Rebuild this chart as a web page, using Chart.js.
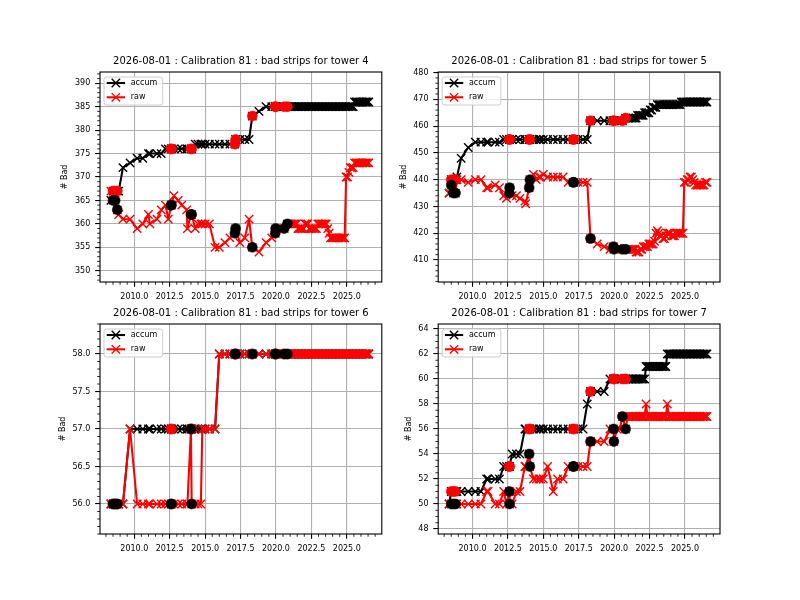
<!DOCTYPE html>
<html>
<head>
<meta charset="utf-8">
<title>Bad strips per tower</title>
<script src="https://cdn.jsdelivr.net/npm/chart.js@4.4.1/dist/chart.umd.min.js"></script>
<style>
  html, body { margin: 0; padding: 0; background: #fff; }
  #wrap { position: relative; width: 800px; height: 600px; }
  #wrap canvas { position: absolute; left: 0; top: 0; }
</style>
</head>
<body>
<div id="wrap">
  <canvas id="tower4" width="800" height="600"></canvas>
  <canvas id="tower5" width="800" height="600"></canvas>
  <canvas id="tower6" width="800" height="600"></canvas>
  <canvas id="tower7" width="800" height="600"></canvas>
</div>
<script>
'use strict';

// calibration runs (decimal year), shared by all towers
const runYears = [
  2008.35, 2008.50, 2008.65, 2008.80, 2008.90, 2009.20, 2009.70, 2010.20, 2010.60, 2011.00,
  2011.10, 2011.60, 2011.90, 2012.20, 2012.40, 2012.60, 2012.62, 2012.80, 2013.10, 2013.35,
  2013.70, 2013.75, 2014.00, 2014.05, 2014.30, 2014.50, 2014.70, 2014.80, 2015.00, 2015.30,
  2015.70, 2016.00, 2016.40, 2016.75, 2017.10, 2017.15, 2017.45, 2017.80, 2018.10, 2018.33,
  2018.80, 2019.30, 2019.70, 2019.95, 2019.98, 2020.20, 2020.40, 2020.58, 2020.81,
  2020.95, 2021.05, 2021.15, 2021.25, 2021.35, 2021.45, 2021.55, 2021.65, 2021.75, 2021.85,
  2021.95, 2022.05, 2022.15, 2022.25, 2022.35, 2022.45, 2022.55, 2022.65, 2022.75, 2022.85,
  2022.95, 2023.05, 2023.15, 2023.25, 2023.35, 2023.45, 2023.55, 2023.65, 2023.75, 2023.85,
  2023.95, 2024.05, 2024.15, 2024.25, 2024.35, 2024.45, 2024.55, 2024.65, 2024.75, 2024.85,
  2024.95, 2025.05, 2025.15, 2025.25, 2025.35, 2025.45, 2025.55, 2025.65, 2025.75, 2025.85,
  2025.95, 2026.05, 2026.15, 2026.25, 2026.35, 2026.45, 2026.55,
];
// runs marked with a big dot
const highlightRuns = [1, 2, 3, 15, 16, 22, 23, 34, 35, 39, 43, 44, 47, 48];

const calibDate = '2026-08-01';
const calibNumber = 81;
const seriesNames = ['accum', 'raw'];
const seriesColors = ['#000000', '#ff0000'];

const yearTicks = [2010, 2012.5, 2015, 2017.5, 2020, 2022.5, 2025];

const accum4 = [
  365, 367, 367, 367, 367, 372, 373, 374, 374, 375,
  375, 375, 375, 376, 376, 376, 376, 376, 376, 376,
  376, 376, 376, 376, 377, 377, 377, 377, 377, 377,
  377, 377, 377, 377, 377, 378, 378, 378, 378, 383,
  384, 385, 385, 385, 385, 385, 385, 385, 385,
  385, 385, 385, 385, 385, 385, 385, 385, 385, 385,
  385, 385, 385, 385, 385, 385, 385, 385, 385, 385,
  385, 385, 385, 385, 385, 385, 385, 385, 385, 385,
  385, 385, 385, 385, 385, 385, 385, 385, 385, 385,
  385, 385, 385, 385, 385, 385, 386, 386, 386, 386,
  386, 386, 386, 386, 386, 386, 386,
];
const raw4 = [
  367, 365, 365, 363, 362, 361, 361, 359, 360, 362,
  360, 361, 363, 364, 361, 364, 364, 366, 365, 364,
  363, 359, 362, 362, 359, 360, 360, 360, 360, 360,
  355, 355, 356, 357, 358, 359, 356, 357, 361, 355,
  354, 356, 357, 358, 359, 359, 359, 359, 360,
  360, 360, 360, 360, 360, 360, 359, 359, 359, 359,
  359, 360, 360, 360, 359, 359, 359, 359, 359, 359,
  360, 360, 360, 360, 360, 360, 360, 359, 358, 357,
  357, 357, 357, 357, 357, 357, 357, 357, 357, 357,
  370, 370, 371, 372, 372, 372, 373, 373, 373, 373,
  373, 373, 373, 373, 373, 373, 373,
];
const ticks4 = [350, 355, 360, 365, 370, 375, 380, 385, 390];

const accum5 = [
  435, 440, 440, 440, 441, 448, 452, 454, 454, 454,
  454, 454, 454, 455, 455, 455, 455, 455, 455, 455,
  455, 455, 455, 455, 455, 455, 455, 455, 455, 455,
  455, 455, 455, 455, 455, 455, 455, 455, 455, 462,
  462, 462, 462, 462, 462, 462, 462, 462, 463,
  463, 463, 463, 463, 463, 463, 463, 464, 464, 464,
  464, 464, 465, 465, 465, 465, 466, 466, 467, 467,
  467, 468, 468, 468, 468, 468, 468, 468, 468, 468,
  468, 468, 468, 468, 468, 468, 468, 468, 469, 469,
  469, 469, 469, 469, 469, 469, 469, 469, 469, 469,
  469, 469, 469, 469, 469, 469, 469,
];
const raw5 = [
  435, 438, 435, 435, 440, 440, 439, 440, 440, 437,
  437, 438, 437, 434, 433, 435, 437, 434, 434, 433,
  432, 431, 437, 440, 442, 440, 441, 441, 442, 441,
  441, 441, 441, 439, 439, 439, 439, 439, 439, 418,
  416, 415, 414, 415, 414, 414, 414, 414, 414,
  414, 414, 414, 414, 414, 414, 413, 413, 413, 414,
  414, 415, 415, 415, 415, 416, 416, 416, 416, 417,
  420, 421, 420, 419, 419, 418, 418, 419, 420, 420,
  420, 419, 419, 419, 420, 420, 420, 420, 420, 420,
  439, 439, 440, 440, 441, 441, 440, 439, 438, 438,
  438, 438, 438, 438, 438, 439, 439,
];
const ticks5 = [410, 420, 430, 440, 450, 460, 470, 480];

const accum6 = [
  56, 56, 56, 56, 56, 56, 57, 57, 57, 57,
  57, 57, 57, 57, 57, 57, 57, 57, 57, 57,
  57, 57, 57, 57, 57, 57, 57, 57, 57, 57,
  57, 58, 58, 58, 58, 58, 58, 58, 58, 58,
  58, 58, 58, 58, 58, 58, 58, 58, 58,
  58, 58, 58, 58, 58, 58, 58, 58, 58, 58,
  58, 58, 58, 58, 58, 58, 58, 58, 58, 58,
  58, 58, 58, 58, 58, 58, 58, 58, 58, 58,
  58, 58, 58, 58, 58, 58, 58, 58, 58, 58,
  58, 58, 58, 58, 58, 58, 58, 58, 58, 58,
  58, 58, 58, 58, 58, 58, 58,
];
const raw6 = [
  56, 56, 56, 56, 56, 56, 57, 56, 56, 56,
  56, 56, 56, 56, 56, 56, 56, 56, 56, 56,
  56, 56, 57, 56, 56, 56, 56, 57, 57, 57,
  57, 58, 58, 58, 58, 58, 58, 58, 58, 58,
  58, 58, 58, 58, 58, 58, 58, 58, 58,
  58, 58, 58, 58, 58, 58, 58, 58, 58, 58,
  58, 58, 58, 58, 58, 58, 58, 58, 58, 58,
  58, 58, 58, 58, 58, 58, 58, 58, 58, 58,
  58, 58, 58, 58, 58, 58, 58, 58, 58, 58,
  58, 58, 58, 58, 58, 58, 58, 58, 58, 58,
  58, 58, 58, 58, 58, 58, 58,
];
const ticks6 = [56.0, 56.5, 57.0, 57.5, 58.0];

const accum7 = [
  50, 51, 51, 51, 51, 51, 51, 51, 51, 52,
  52, 52, 52, 53, 53, 53, 53, 54, 54, 54,
  56, 56, 56, 56, 56, 56, 56, 56, 56, 56,
  56, 56, 56, 56, 56, 56, 56, 56, 58, 59,
  59, 59, 60, 60, 60, 60, 60, 60, 60,
  60, 60, 60, 60, 60, 60, 60, 60, 60, 60,
  60, 60, 60, 61, 61, 61, 61, 61, 61, 61,
  61, 61, 61, 61, 61, 61, 61, 61, 62, 62,
  62, 62, 62, 62, 62, 62, 62, 62, 62, 62,
  62, 62, 62, 62, 62, 62, 62, 62, 62, 62,
  62, 62, 62, 62, 62, 62, 62,
];
const raw7 = [
  50, 50, 50, 50, 50, 50, 50, 50, 50, 51,
  51, 50, 50, 51, 50, 51, 50, 50, 51, 51,
  53, 53, 54, 53, 52, 52, 52, 52, 52, 53,
  51, 52, 52, 53, 53, 53, 53, 53, 53, 55,
  55, 55, 56, 56, 55, 56, 56, 57, 56,
  57, 57, 57, 57, 57, 57, 57, 57, 57, 57,
  57, 57, 57, 58, 57, 57, 57, 57, 57, 57,
  57, 57, 57, 57, 57, 57, 57, 57, 58, 57,
  57, 57, 57, 57, 57, 57, 57, 57, 57, 57,
  57, 57, 57, 57, 57, 57, 57, 57, 57, 57,
  57, 57, 57, 57, 57, 57, 57,
];
const ticks7 = [48, 50, 52, 54, 56, 58, 60, 62, 64];

// subplot layout (axes box in page pixels) and axis limits
const panels = [
  { canvas: 'tower4', tower: 4, accum: accum4, raw: raw4, yTicks: ticks4, yMin: 347.6, yMax: 392.4, yMinor: 1, digits: 0, box: [100, 72, 381.8, 282] },
  { canvas: 'tower5', tower: 5, accum: accum5, raw: raw5, yTicks: ticks5, yMin: 401.8, yMax: 480.2, yMinor: 2, digits: 0, box: [438.2, 72, 720, 282] },
  { canvas: 'tower6', tower: 6, accum: accum6, raw: raw6, yTicks: ticks6, yMin: 55.6, yMax: 58.4, yMinor: 0.1, digits: 1, box: [100, 324, 381.8, 534] },
  { canvas: 'tower7', tower: 7, accum: accum7, raw: raw7, yTicks: ticks7, yMin: 47.6, yMax: 64.4, yMinor: 0.5, digits: 0, box: [438.2, 324, 720, 534] },
];

const FONT = "'DejaVu Sans', sans-serif";
const TICK_LEN = 4.86;
const TICK_PAD = 4.86;
const MINOR_LEN = 2.8;
const Y_AXIS_W = 40;
const X_AXIS_H = 20;

const isMajor = (v, majors) => majors.some((m) => Math.abs(m - v) < 1e-6);

function drawCross(ctx, x, y, half) {
  ctx.beginPath();
  ctx.moveTo(x - half, y - half);
  ctx.lineTo(x + half, y + half);
  ctx.moveTo(x - half, y + half);
  ctx.lineTo(x + half, y - half);
  ctx.stroke();
}

function drawLegend(ctx, a) {
  const x0 = a.left + 4;
  const y0 = a.top + 5;
  ctx.beginPath();
  if (ctx.roundRect) ctx.roundRect(x0, y0, 58.7, 28, 2.5);
  else ctx.rect(x0, y0, 58.7, 28);
  ctx.fillStyle = 'rgba(255,255,255,0.8)';
  ctx.fill();
  ctx.strokeStyle = '#cccccc';
  ctx.lineWidth = 1;
  ctx.stroke();

  ctx.font = `8px ${FONT}`;
  ctx.textAlign = 'left';
  ctx.textBaseline = 'middle';
  seriesNames.forEach((name, i) => {
    const cy = a.top + 11 + i * 14.3;
    ctx.strokeStyle = seriesColors[i];
    ctx.lineWidth = 2.08;
    ctx.beginPath();
    ctx.moveTo(a.left + 6.7, cy);
    ctx.lineTo(a.left + 25, cy);
    ctx.stroke();
    ctx.lineWidth = 1.4;
    drawCross(ctx, a.left + 15.85, cy, 4.17);
    ctx.fillStyle = '#000';
    ctx.fillText(name, a.left + 30.7, cy);
  });
}

const mplDecor = {
  id: 'mplDecor',
  afterDraw(chart, _args, opts) {
    const { ctx, chartArea: a } = chart;
    const xs = chart.scales.x;
    const ys = chart.scales.y;
    ctx.save();

    // minor ticks
    ctx.strokeStyle = '#000';
    ctx.lineWidth = 0.83;
    ctx.beginPath();
    for (let k = Math.ceil(xs.min / 0.5); k * 0.5 <= xs.max; k++) {
      const v = k * 0.5;
      if (isMajor(v, yearTicks)) continue;
      const px = xs.getPixelForValue(v);
      ctx.moveTo(px, a.bottom);
      ctx.lineTo(px, a.bottom + MINOR_LEN);
    }
    const step = opts.yMinor;
    for (let k = Math.ceil(ys.min / step - 1e-9); k * step <= ys.max + 1e-9; k++) {
      const v = k * step;
      if (isMajor(v, opts.yTicks)) continue;
      const py = ys.getPixelForValue(v);
      ctx.moveTo(a.left, py);
      ctx.lineTo(a.left - MINOR_LEN, py);
    }
    ctx.stroke();

    // spines
    ctx.lineWidth = 1.1;
    ctx.strokeRect(a.left, a.top, a.right - a.left, a.bottom - a.top);

    // title
    ctx.fillStyle = '#000';
    ctx.font = `10px ${FONT}`;
    ctx.textAlign = 'center';
    ctx.textBaseline = 'alphabetic';
    ctx.fillText(opts.title, (a.left + a.right) / 2, a.top - 8.3);

    // y label
    ctx.font = `8px ${FONT}`;
    const maxW = Math.max(...opts.yTicks.map((v) => ctx.measureText(v.toFixed(opts.digits)).width));
    ctx.save();
    ctx.translate(a.left - TICK_LEN - TICK_PAD - maxW - 5.6, (a.top + a.bottom) / 2);
    ctx.rotate(-Math.PI / 2);
    ctx.textAlign = 'center';
    ctx.textBaseline = 'bottom';
    ctx.fillText('# Bad', 0, 0);
    ctx.restore();

    drawLegend(ctx, a);
    ctx.restore();
  },
};

const gridOpts = {
  color: '#b0b0b0',
  lineWidth: 1.1,
  tickColor: '#000',
  tickLength: TICK_LEN,
  tickWidth: 1.1,
};

panels.forEach((p) => {
  const pts = (vals) => runYears.map((x, i) => ({ x, y: vals[i] }));
  const marked = (vals) => highlightRuns.map((i) => ({ x: runYears[i], y: vals[i] }));
  const [L, T, R, B] = p.box;

  new Chart(document.getElementById(p.canvas), {
    type: 'line',
    data: {
      datasets: [
        {
          label: 'raw marked',
          data: marked(p.raw),
          showLine: false,
          pointStyle: 'circle',
          pointRadius: 5,
          pointBackgroundColor: '#000000',
          pointBorderColor: '#000000',
          pointBorderWidth: 0.5,
          order: 0,
        },
        {
          label: 'accum marked',
          data: marked(p.accum),
          showLine: false,
          pointStyle: 'circle',
          pointRadius: 5,
          pointBackgroundColor: '#ff0000',
          pointBorderColor: '#ff0000',
          pointBorderWidth: 0.5,
          order: 1,
        },
        {
          label: seriesNames[1],
          data: pts(p.raw),
          borderColor: seriesColors[1],
          borderWidth: 2.08,
          borderJoinStyle: 'round',
          pointStyle: 'crossRot',
          pointRadius: 5.9,
          pointBorderWidth: 1.4,
          pointBorderColor: seriesColors[1],
          tension: 0,
          order: 2,
        },
        {
          label: seriesNames[0],
          data: pts(p.accum),
          borderColor: seriesColors[0],
          borderWidth: 2.08,
          borderJoinStyle: 'round',
          pointStyle: 'crossRot',
          pointRadius: 5.9,
          pointBorderWidth: 1.4,
          pointBorderColor: seriesColors[0],
          tension: 0,
          order: 3,
        },
      ],
    },
    options: {
      responsive: false,
      animation: false,
      devicePixelRatio: 1,
      events: [],
      layout: {
        padding: { left: L - Y_AXIS_W, right: 800 - R, top: T, bottom: 600 - B - X_AXIS_H },
      },
      plugins: {
        legend: { display: false },
        tooltip: { enabled: false },
        mplDecor: {
          title: `${calibDate} : Calibration ${calibNumber} : bad strips for tower ${p.tower}`,
          yTicks: p.yTicks,
          yMinor: p.yMinor,
          digits: p.digits,
        },
      },
      scales: {
        x: {
          type: 'linear',
          min: 2007.58,
          max: 2027.47,
          afterBuildTicks: (s) => { s.ticks = yearTicks.map((v) => ({ value: v })); },
          afterFit: (s) => { s.height = X_AXIS_H; },
          ticks: {
            autoSkip: false,
            maxRotation: 0,
            padding: TICK_PAD,
            color: '#000',
            font: { family: FONT, size: 8 },
            callback: (v) => Number(v).toFixed(1),
          },
          grid: gridOpts,
          border: { display: false },
        },
        y: {
          type: 'linear',
          min: p.yMin,
          max: p.yMax,
          afterBuildTicks: (s) => { s.ticks = p.yTicks.map((v) => ({ value: v })); },
          afterFit: (s) => { s.width = Y_AXIS_W; },
          ticks: {
            autoSkip: false,
            padding: TICK_PAD,
            color: '#000',
            font: { family: FONT, size: 8 },
            callback: (v) => Number(v).toFixed(p.digits),
          },
          grid: gridOpts,
          border: { display: false },
        },
      },
    },
    plugins: [mplDecor],
  });
});
</script>
</body>
</html>
